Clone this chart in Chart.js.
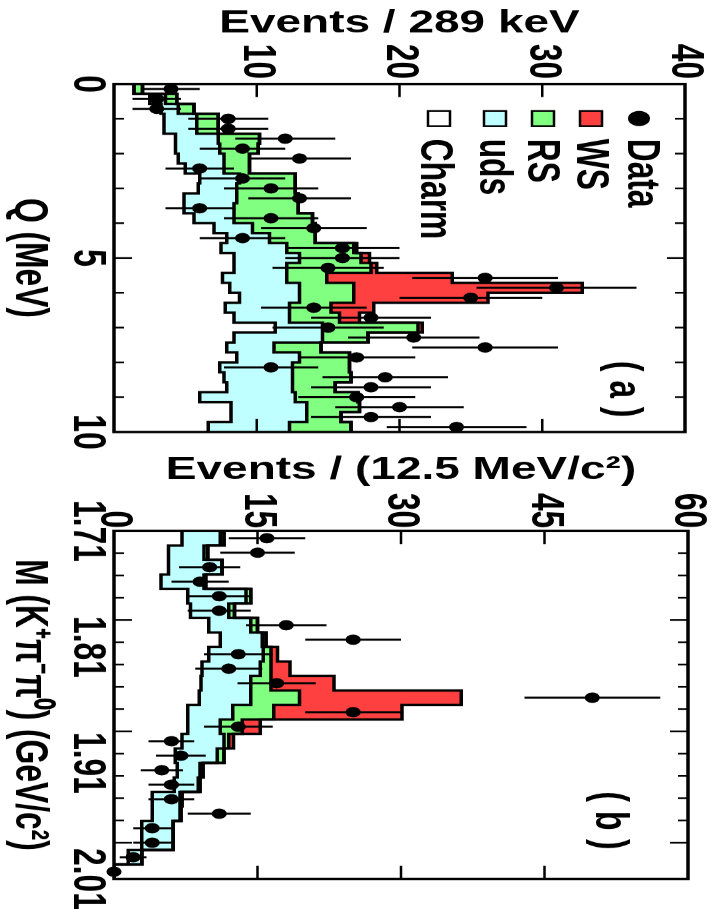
<!DOCTYPE html>
<html>
<head>
<meta charset="utf-8">
<script src="https://cdn.jsdelivr.net/npm/chart.js@4.4.0/dist/chart.umd.min.js"></script>
<style>
  html, body { margin: 0; padding: 0; background: #fff; overflow: hidden; width: 715px; height: 909px; }
  /* the figure is a landscape plot shown turned a quarter turn clockwise */
  #page { position: absolute; left: 0; top: 0; width: 1317px; height: 715px;
          transform-origin: 0 0; transform: translateX(715px) rotate(90deg) scale(0.6902, 1); }
  #panelA { position: absolute; left: 0; top: 0; }
  #panelB { position: absolute; left: 640px; top: 0; }
</style>
</head>
<body>
<div id="page">
  <canvas id="panelA" width="680" height="715"></canvas>
  <canvas id="panelB" width="690" height="715"></canvas>
</div>
<script>
// ---- panel (a): Q = M(K pi pi0) - M(K pi) - m(pi0), 35 bins over 0..10 MeV
const qRange = [0, 10];
const qBins = 35;
const dataA = [4, 3, 3, 8, 8, 12, 9, 13, 6, 9, 11, 13, 6, 11, 14, 9, 16, 16, 15, 26, 31, 25, 14, 18, 15, 21, 26, 17, 11, 19, 18, 17, 20, 18, 24];
const errA = [2.0, 1.7, 1.7, 2.8, 2.8, 3.5, 3.0, 3.6, 2.4, 3.0, 3.3, 3.6, 2.4, 3.3, 3.7, 3.0, 4.0, 4.0, 3.9, 5.1, 5.6, 5.0, 3.7, 4.2, 3.9, 4.6, 5.1, 4.1, 3.3, 4.4, 4.2, 4.1, 4.5, 4.2, 4.9];
const charmA = [1.4, 2.5, 3.3, 3.5, 3.5, 4.3, 4.3, 4.5, 5.0, 6.0, 5.9, 4.9, 4.9, 5.6, 7.0, 7.9, 7.5, 8.4, 8.4, 7.6, 8.1, 8.8, 7.8, 8.4, 11.3, 8.4, 7.9, 8.6, 7.4, 7.7, 7.9, 6.0, 8.2, 8.2, 6.6];
const udsA = [0, 1.1, 1.2, 2.3, 2.3, 3.0, 3.1, 3.2, 2.7, 2.8, 2.7, 3.7, 3.5, 2.8, 2.7, 3.0, 4.6, 4.6, 3.7, 4.5, 4.9, 4.2, 4.5, 3.9, 3.3, 6.2, 3.3, 4.4, 5.1, 4.8, 4.6, 6.7, 5.3, 5.3, 5.7];
const rsA = [0.6, 0.8, 1.1, 1.5, 1.5, 2.9, 2.7, 1.8, 1.8, 3.9, 4.1, 4.3, 4.5, 5.5, 4.4, 3.2, 4.7, 4.3, 5.9, 2.8, 3.8, 3.8, 2.9, 3.5, 6.7, 3.2, 3.3, 3.5, 4.0, 4.1, 3.0, 4.4, 3.7, 2.4, 4.3];
const wsA = [0, 0, 0, 0, 0, 0, 0, 0, 0, 0, 0, 0, 0, 0, 0, 0, 0.2, 0.6, 0.4, 8.8, 16.0, 9.4, 3.0, 1.4, 0.3, 0, 0, 0, 0, 0, 0, 0, 0, 0, 0];
const qTickLabels = [0, 5, 10];
const eventsTickLabelsA = [10, 20, 30, 40];

// ---- panel (b): M(K+ pi- pi0), 24 bins of 12.5 MeV/c2
const mRange = [1.71, 2.01];
const mBins = 24;
const dataB = [16, 15, 10, 9, 11, 11, 18, 25, 13, 12, 17, 50, 25, 13, 6, 7, 5, 6, 6, 11, 4, 4, 2, 0];
const errB = [4.0, 3.9, 3.2, 3.0, 3.3, 3.3, 4.2, 5.0, 3.6, 3.5, 4.1, 7.1, 5.0, 3.6, 2.4, 2.6, 2.2, 2.4, 2.4, 3.3, 2.0, 2.0, 1.4, 0];
const charmB = [7.1, 5.7, 5.7, 4.9, 7.7, 8.0, 9.9, 11.1, 9.9, 9.2, 9.1, 8.9, 7.7, 7.7, 7.1, 6.4, 6.6, 6.3, 4.0, 4.0, 2.9, 2.9, 1.5, 0];
const udsB = [4.0, 3.7, 5.6, 4.5, 6.1, 4.0, 4.4, 4.4, 5.7, 6.1, 5.2, 5.4, 4.7, 3.4, 4.4, 4.4, 2.4, 2.5, 2.9, 2.9, 3.3, 3.3, 1.4, 0];
const rsB = [0.4, 0.4, 0, 0.2, 0.5, 0.6, 0.7, 0.4, 0.8, 1.1, 2.1, 5.1, 4.3, 2.3, 0.5, 0.7, 0.3, 0.2, 0.2, 0.1, 0, 0, 0, 0];
const wsB = [0, 0, 0, 0, 0, 0, 0, 0, 0.7, 2.0, 6.6, 16.9, 13.4, 1.9, 0.5, 0, 0, 0, 0, 0, 0, 0, 0, 0];
const mTickLabels = [1.71, 1.81, 1.91, 2.01];
const eventsTickLabelsB = [0, 15, 30, 45, 60];

const RED = '#ff4040';
const GREEN = '#80ff80';
const CYAN = '#c0ffff';
const FONT = "'Liberation Sans', Arial, Helvetica, sans-serif";
const bigFont = { family: FONT, size: 46, weight: 'bold', lineHeight: 1 };

function binEdges(range, n) {
  return Array.from({ length: n + 1 }, (_, i) => range[0] + (range[1] - range[0]) * i / n);
}

// running sums: charm, charm+uds, ... (the stacked outlines)
function stackLevels(parts) {
  let run = parts[0].map(() => 0);
  return parts.map(p => (run = run.map((v, i) => v + p[i])));
}

function stepPoints(edges, values) {
  const pts = values.map((v, i) => ({ x: edges[i], y: v }));
  pts.push({ x: edges[values.length], y: values[values.length - 1] });
  return pts;
}

const frame = {
  id: 'frame',
  afterDraw(chart, _args, o) {
    const { ctx, chartArea: a } = chart;
    const sx = chart.scales.x, sy = chart.scales.y;
    ctx.save();
    ctx.strokeStyle = '#000';
    ctx.lineWidth = 2.5;
    ctx.beginPath();
    o.xTicks.forEach(([v, len]) => {
      const px = sx.getPixelForValue(v);
      ctx.moveTo(px, a.bottom); ctx.lineTo(px, a.bottom - len);
      ctx.moveTo(px, a.top); ctx.lineTo(px, a.top + len);
    });
    o.yTicks.forEach(([v, len]) => {
      const py = sy.getPixelForValue(v);
      ctx.moveTo(a.left, py); ctx.lineTo(a.left + len, py);
      ctx.moveTo(a.right, py); ctx.lineTo(a.right - len, py);
    });
    ctx.stroke();
    ctx.lineWidth = 3.5;
    ctx.strokeRect(a.left, a.top, a.right - a.left, a.bottom - a.top);

    ctx.fillStyle = '#000';
    ctx.font = `bold 46px ${FONT}`;
    ctx.textAlign = 'center';
    ctx.fillText(o.tag[0], o.tag[1], o.tag[2]);

    if (o.legend) {
      ctx.textAlign = 'left';
      o.legend.forEach(row => {
        const [label, color, my, ty] = row;
        if (color === null) {
          ctx.beginPath();
          ctx.arc(171.7, my, 11, 0, Math.PI * 2);
          ctx.fill();
        } else {
          ctx.fillStyle = color;
          ctx.fillRect(160.7, my - 11, 22, 22);
          ctx.lineWidth = 2.5;
          ctx.strokeRect(160.7, my - 11, 22, 22);
          ctx.fillStyle = '#000';
        }
        ctx.fillText(label, 201, ty);
      });
    }
    ctx.restore();
  }
};

function makePanel(canvasId, p) {
  const edges = binEdges(p.range, p.bins);
  const centers = edges.slice(0, -1).map((e, i) => (e + edges[i + 1]) / 2);
  const [lvCharm, lvUds, lvRs, lvWs] = stackLevels([p.charm, p.uds, p.rs, p.ws]);
  const errPts = [];
  p.counts.forEach((n, i) => {
    errPts.push({ x: centers[i], y: n - p.errs[i] }, { x: centers[i], y: n + p.errs[i] }, { x: centers[i], y: null });
  });
  const histo = (label, levels, color, fill) => ({
    label, data: stepPoints(edges, levels), stepped: 'before', fill,
    borderColor: '#000', borderWidth: 3.5, backgroundColor: color, pointRadius: 0
  });

  return new Chart(document.getElementById(canvasId), {
    type: 'line',
    data: {
      datasets: [
        { label: 'Data', data: p.counts.map((n, i) => ({ x: centers[i], y: n })), showLine: false,
          pointRadius: 7.5, pointBackgroundColor: '#000', pointBorderWidth: 0, clip: false },
        { label: 'errors', data: errPts, borderColor: '#000', borderWidth: 3, pointRadius: 0, spanGaps: false, fill: false },
        histo('WS', lvWs, RED, 3),
        histo('RS', lvRs, GREEN, 4),
        histo('uds', lvUds, CYAN, 5),
        histo('Charm', lvCharm, '#fff', 'origin')
      ]
    },
    options: {
      responsive: false,
      animation: false,
      events: [],
      layout: { padding: { top: 27, right: p.padRight, left: 0, bottom: 0 } },
      plugins: {
        legend: { display: false },
        tooltip: { enabled: false },
        filler: { drawTime: 'beforeDatasetsDraw' },
        frame: p.frame
      },
      scales: {
        x: {
          type: 'linear', min: p.range[0], max: p.range[1],
          afterFit: s => { s.height = 114; },
          afterBuildTicks: s => { s.ticks = p.xLabels.map(v => ({ value: v })); },
          grid: { display: false, drawTicks: false },
          border: { display: false },
          ticks: { font: bigFont, color: '#000', padding: 4.5, maxRotation: 0, autoSkip: false, callback: p.xFormat },
          title: { display: true, text: p.xTitle, font: bigFont, color: '#000', padding: { top: 0, bottom: 6 } }
        },
        y: {
          type: 'linear', min: p.yMax[0], max: p.yMax[1],
          afterFit: s => { s.width = p.axisWidth; },
          afterBuildTicks: s => { s.ticks = p.yLabels.map(v => ({ value: v })); },
          grid: { display: false, drawTicks: false },
          border: { display: false },
          ticks: { font: bigFont, color: '#000', padding: p.yPad, autoSkip: false },
          title: { display: true, text: p.yTitle, font: bigFont, color: '#000', padding: { top: p.yTitlePad, bottom: 0 } }
        }
      }
    },
    plugins: [frame]
  });
}

const qMinorTicks = [1, 2, 3, 4, 6, 7, 8, 9].map(v => [v, 10]).concat([[5, 18]]);
const massTicks = [];
for (let i = 1; i <= 14; i++) massTicks.push([1.71 + 0.0192 * i, i % 5 === 4 ? 18 : 10]);

makePanel('panelA', {
  range: qRange, bins: qBins, counts: dataA, errs: errA,
  charm: charmA, uds: udsA, rs: rsA, ws: wsA,
  xLabels: qTickLabels, yLabels: eventsTickLabelsA, yMax: [0, 40],
  xFormat: v => String(v),
  xTitle: 'Q (MeV)', yTitle: 'Events / 289 keV',
  axisWidth: 121.7, padRight: 54.1, yPad: 7, yTitlePad: 11,
  frame: {
    xTicks: qMinorTicks,
    yTicks: [[10, 19], [20, 19], [30, 19]],
    tag: ['( a )', 564, 104.5],
    legend: [
      ['Data', null, 76, 86.5],
      ['WS', RED, 124, 138],
      ['RS', GREEN, 172, 186.5],
      ['uds', CYAN, 220, 235],
      ['Charm', '#fff', 276, 294]
    ]
  }
});

makePanel('panelB', {
  range: mRange, bins: mBins, counts: dataB, errs: errB,
  charm: charmB, uds: udsB, rs: rsB, ws: wsB,
  xLabels: mTickLabels, yLabels: eventsTickLabelsB, yMax: [0, 60],
  xFormat: v => v.toFixed(2),
  xTitle: 'M (K\u207A\u03C0\u207B\u03C0\u2070) (GeV/c\u00B2)', yTitle: 'Events / (12.5 MeV/c\u00B2)',
  axisWidth: 129.3, padRight: 56.5, yPad: 4, yTitlePad: 18,
  frame: {
    xTicks: massTicks,
    yTicks: [[15, 19], [30, 19], [45, 19]],
    tag: ['( b )', 549, 118.5],
    legend: null
  }
});
</script>
</body>
</html>
